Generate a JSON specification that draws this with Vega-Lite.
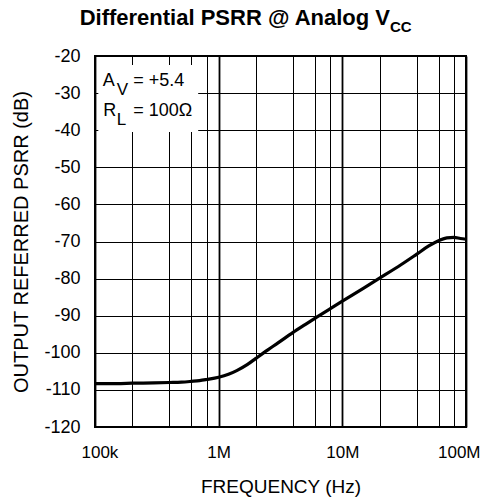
{
  "$schema": "https://vega.github.io/schema/vega-lite/v6.json",
  "width": 371,
  "height": 371,
  "autosize": {"type": "none"},
  "padding": {"left": 95, "top": 56, "right": 18, "bottom": 76},
  "background": "white",
  "config": {
    "font": "Liberation Sans",
    "view": {"stroke": "black", "strokeWidth": 2}
  },
  "title": {
    "text": "Differential PSRR @ Analog V",
    "font": "Liberation Sans",
    "fontSize": 22,
    "fontWeight": "bold",
    "color": "black",
    "anchor": "end",
    "frame": "group",
    "dx": -76,
    "baseline": "alphabetic",
    "offset": -27
  },
  "layer": [
    {
      "data": {
        "values": [
          {"freq": 100000, "psrr": -108.3},
          {"freq": 150000, "psrr": -108.3},
          {"freq": 200000, "psrr": -108.2},
          {"freq": 300000, "psrr": -108.1},
          {"freq": 400000, "psrr": -108.0},
          {"freq": 500000, "psrr": -107.9},
          {"freq": 600000, "psrr": -107.7},
          {"freq": 700000, "psrr": -107.5},
          {"freq": 800000, "psrr": -107.2},
          {"freq": 1000000, "psrr": -106.6},
          {"freq": 1200000, "psrr": -105.8},
          {"freq": 1400000, "psrr": -104.8},
          {"freq": 1700000, "psrr": -103.2},
          {"freq": 2000000, "psrr": -101.5},
          {"freq": 2500000, "psrr": -99.2},
          {"freq": 3000000, "psrr": -97.4},
          {"freq": 4000000, "psrr": -94.5},
          {"freq": 5000000, "psrr": -92.4},
          {"freq": 6000000, "psrr": -90.7},
          {"freq": 8000000, "psrr": -88.1},
          {"freq": 10000000, "psrr": -86.1},
          {"freq": 15000000, "psrr": -82.5},
          {"freq": 20000000, "psrr": -79.9},
          {"freq": 30000000, "psrr": -76.2},
          {"freq": 40000000, "psrr": -73.4},
          {"freq": 50000000, "psrr": -71.2},
          {"freq": 60000000, "psrr": -69.8},
          {"freq": 70000000, "psrr": -69.0},
          {"freq": 80000000, "psrr": -68.9},
          {"freq": 90000000, "psrr": -69.2},
          {"freq": 100000000, "psrr": -69.4}
        ]
      },
      "mark": {"type": "line", "color": "black", "strokeWidth": 3.2, "interpolate": "monotone"},
      "encoding": {
        "x": {
          "field": "freq",
          "type": "quantitative",
          "scale": {"type": "log", "domain": [100000, 100000000], "nice": false},
          "axis": {
            "title": "FREQUENCY (Hz)",
            "values": [100000, 200000, 400000, 600000, 800000, 1000000, 2000000, 4000000, 6000000, 8000000, 10000000, 20000000, 40000000, 60000000, 80000000, 100000000],
            "labelExpr": "datum.value == 100000 ? '100k' : datum.value == 1000000 ? '1M' : datum.value == 10000000 ? '10M' : datum.value == 100000000 ? '100M' : ''",
            "grid": true,
            "gridColor": "black",
            "gridOpacity": 1,
            "gridWidth": {"condition": {"test": "datum.value == 100000 || datum.value == 1000000 || datum.value == 10000000 || datum.value == 100000000", "value": 1.8}, "value": 1},
            "ticks": false,
            "tickSize": 0,
            "domain": false,
            "labelFontSize": 17,
            "labelColor": "black",
            "labelPadding": 17,
            "labelFlush": true,
            "labelFlushOffset": 14,
            "labelOverlap": false,
            "titleFontSize": 19,
            "titleFontWeight": "normal",
            "titleColor": "black",
            "titlePadding": 17
          }
        },
        "y": {
          "field": "psrr",
          "type": "quantitative",
          "scale": {"domain": [-120, -20], "nice": false, "zero": false},
          "axis": {
            "title": "OUTPUT REFERRED PSRR (dB)",
            "values": [-120, -110, -100, -90, -80, -70, -60, -50, -40, -30, -20],
            "tickCount": 11,
            "labelExpr": "'' + datum.value",
            "grid": true,
            "gridColor": "black",
            "gridOpacity": 1,
            "gridWidth": 1,
            "ticks": false,
            "tickSize": 0,
            "domain": false,
            "labelFontSize": 18,
            "labelColor": "black",
            "labelPadding": 15,
            "labelOverlap": false,
            "titleFontSize": 20,
            "titleFontWeight": "normal",
            "titleColor": "black",
            "titlePadding": 12
          }
        }
      }
    },
    {
      "data": {"values": [{}]},
      "mark": {"type": "rect", "fill": "white"},
      "encoding": {
        "x": {"datum": 106400, "type": "quantitative"},
        "x2": {"datum": 683000},
        "y": {"datum": -22.4, "type": "quantitative"},
        "y2": {"datum": -40.5}
      }
    },
    {
      "data": {"values": [{}]},
      "mark": {"type": "text", "text": "A", "fontSize": 18, "align": "left", "baseline": "alphabetic", "color": "black"},
      "encoding": {"x": {"datum": 115400, "type": "quantitative"}, "y": {"datum": -28.09, "type": "quantitative"}}
    },
    {
      "data": {"values": [{}]},
      "mark": {"type": "text", "text": "V", "fontSize": 17, "align": "left", "baseline": "alphabetic", "color": "black"},
      "encoding": {"x": {"datum": 149800, "type": "quantitative"}, "y": {"datum": -30.5, "type": "quantitative"}}
    },
    {
      "data": {"values": [{}]},
      "mark": {"type": "text", "text": "= +5.4", "fontSize": 18, "align": "left", "baseline": "alphabetic", "color": "black"},
      "encoding": {"x": {"datum": 204000, "type": "quantitative"}, "y": {"datum": -28.09, "type": "quantitative"}}
    },
    {
      "data": {"values": [{}]},
      "mark": {"type": "text", "text": "R", "fontSize": 18, "align": "left", "baseline": "alphabetic", "color": "black"},
      "encoding": {"x": {"datum": 116700, "type": "quantitative"}, "y": {"datum": -36.17, "type": "quantitative"}}
    },
    {
      "data": {"values": [{}]},
      "mark": {"type": "text", "text": "L", "fontSize": 17, "align": "left", "baseline": "alphabetic", "color": "black"},
      "encoding": {"x": {"datum": 149800, "type": "quantitative"}, "y": {"datum": -38.6, "type": "quantitative"}}
    },
    {
      "data": {"values": [{}]},
      "mark": {"type": "text", "text": "= 100Ω", "fontSize": 18, "align": "left", "baseline": "alphabetic", "color": "black"},
      "encoding": {"x": {"datum": 204000, "type": "quantitative"}, "y": {"datum": -36.17, "type": "quantitative"}}
    },
    {
      "data": {"values": [{}]},
      "mark": {"type": "text", "text": "CC", "fontSize": 15, "fontWeight": "bold", "align": "left", "baseline": "alphabetic", "color": "black"},
      "encoding": {"x": {"datum": 24300000, "type": "quantitative"}, "y": {"datum": -13.45, "type": "quantitative"}}
    }
  ]
}
